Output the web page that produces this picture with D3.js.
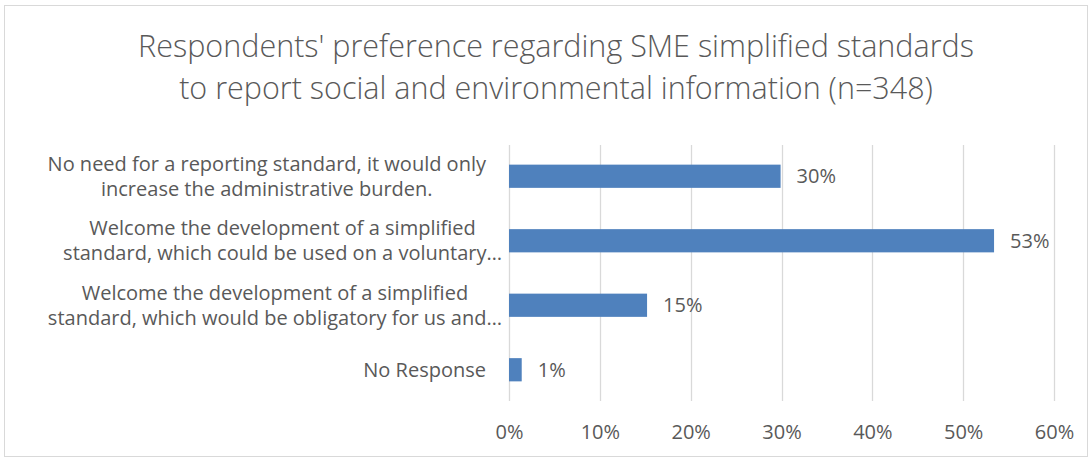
<!DOCTYPE html>
<html>
<head>
<meta charset="utf-8">
<script src="https://cdn.jsdelivr.net/npm/d3@7"></script>
<style>
  html, body { margin: 0; padding: 0; background: #fff; }
  svg { display: block; font-family: "Open Sans", "Noto Sans", sans-serif; }
</style>
</head>
<body>
<svg id="chart" width="1092" height="459"></svg>
<script>
const titleLines = [
  "Respondents' preference regarding SME simplified standards",
  "to report social and environmental information (n=348)"
];
const categories = [
  "No need for a reporting standard, it would only\nincrease the administrative burden.",
  "Welcome the development of a simplified\nstandard, which could be used on a voluntary…",
  "Welcome the development of a simplified\nstandard, which would be obligatory for us and…",
  "No Response"
];
const values = [0.299, 0.534, 0.152, 0.014];
const valueLabels = ["30%", "53%", "15%", "1%"];
const tickValues = [0, 0.1, 0.2, 0.3, 0.4, 0.5, 0.6];
const tickLabels = ["0%", "10%", "20%", "30%", "40%", "50%", "60%"];

const svg = d3.select("#chart");
const W = 1092, H = 459;
const textColor = "#595959";
const labelSize = 20;

// outer border
svg.append("rect").attr("x", 4.5).attr("y", 5.5).attr("width", W - 9).attr("height", H - 8)
  .attr("fill", "#fff").attr("stroke", "#d9d9d9").attr("stroke-width", 1);

// title
const title = svg.append("text").attr("text-anchor", "middle").attr("fill", textColor)
  .attr("font-size", 30.5).attr("font-weight", 300);
titleLines.forEach((t, i) => {
  title.append("tspan").attr("x", 556).attr("y", 57 + i * 42).text(t);
});

const x = d3.scaleLinear().domain([0, 0.6]).range([509, 1054]);
const y = d3.scaleBand().domain(categories).range([144, 402]).paddingInner(0.64).paddingOuter(0.32);

// gridlines
svg.append("g").selectAll("line").data(tickValues).join("line")
  .attr("x1", d => Math.round(x(d)) + 0.5).attr("x2", d => Math.round(x(d)) + 0.5)
  .attr("y1", 145).attr("y2", 401)
  .attr("stroke", "#d9d9d9").attr("stroke-width", 1.3);

// x axis labels
const xAxis = d3.axisBottom(x).tickValues(tickValues)
  .tickFormat((d, i) => tickLabels[i]).tickSize(0).tickPadding(0);
const gx = svg.append("g").attr("transform", "translate(0,432)").call(xAxis);
gx.select(".domain").remove();
gx.selectAll("text").attr("fill", textColor).attr("font-size", labelSize)
  .attr("font-family", "\"Open Sans\", sans-serif").attr("dy", "0.35em");

// bars
svg.append("g").selectAll("rect").data(values).join("rect")
  .attr("x", x(0)).attr("y", (d, i) => y(categories[i]))
  .attr("width", d => x(d) - x(0)).attr("height", y.bandwidth())
  .attr("fill", "#4f81bd");

// value labels
svg.append("g").selectAll("text").data(values).join("text")
  .attr("x", d => x(d) + 16).attr("y", (d, i) => y(categories[i]) + y.bandwidth() / 2)
  .attr("dy", "0.35em").attr("fill", textColor).attr("font-size", labelSize)
  .text((d, i) => valueLabels[i]);

// category labels (multi-line, centred within block, block right-aligned)
const lineH = 25;
categories.forEach((c, i) => {
  const lines = c.split("\n");
  const cy = y(c) + y.bandwidth() / 2;
  const t = svg.append("text").attr("fill", textColor).attr("font-size", labelSize).attr("text-anchor", "middle");
  const spans = lines.map((ln, k) => t.append("tspan")
    .attr("y", cy + (k - (lines.length - 1) / 2) * lineH).attr("dy", "0.35em").text(ln));
  let maxW = 0;
  spans.forEach(s => { maxW = Math.max(maxW, s.node().getComputedTextLength()); });
  const right = lines.length > 1 && c.includes("…") ? 502 : 486;
  spans.forEach(s => s.attr("x", right - maxW / 2));
});
</script>
</body>
</html>
